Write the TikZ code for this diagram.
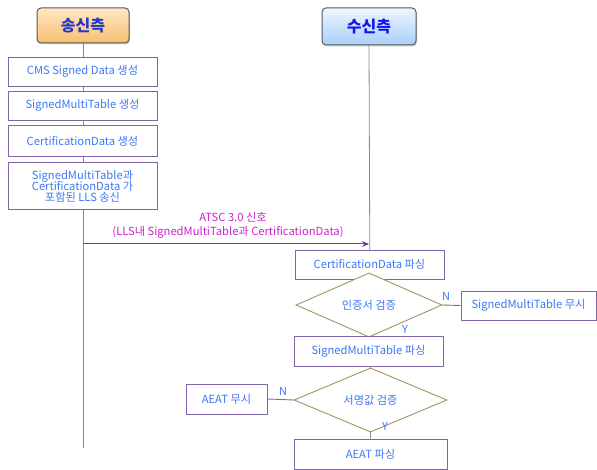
\documentclass[tikz,border=0pt]{standalone}
\usepackage{fontspec}
\setmainfont{Noto Sans CJK KR}
\usetikzlibrary{shapes.geometric,arrows.meta,backgrounds,shadows}
\definecolor{txtblue}{HTML}{3C78F5}
\definecolor{boxline}{HTML}{8064A8}
\definecolor{diamline}{HTML}{A89060}
\definecolor{lifegrey}{HTML}{8A8A8A}
\definecolor{sigline}{HTML}{6A3D9A}
\definecolor{siglabel}{HTML}{D020D0}
\definecolor{hdrblueA}{HTML}{2438C0}
\definecolor{hdrblueB}{HTML}{1414F0}
\definecolor{orTop}{HTML}{FFE8C4}
\definecolor{orBot}{HTML}{F7BE70}
\definecolor{blTop}{HTML}{EEF6FF}
\definecolor{blBot}{HTML}{A9CFF7}
\tikzset{
  x=1pt,y=-1pt,
  every node/.style={font=\fontsize{11.2}{13}\selectfont, text=txtblue, inner sep=1pt, align=center},
  procbox/.style={draw=boxline, line width=0.9pt, fill=white, minimum width=149pt, minimum height=29pt},
  decision/.style={diamond, draw=diamline, line width=0.9pt, fill=white, inner sep=0pt},
  header/.style={draw=black!65, line width=1pt, rounded corners=4pt, minimum width=92pt, minimum height=35pt,
    font=\fontsize{16}{19}\selectfont\bfseries, drop shadow={shadow xshift=1pt, shadow yshift=-1.5pt, opacity=0.35}},
  lifeline/.style={draw=lifegrey, line width=0.8pt},
  branch/.style={draw=boxline, line width=0.9pt},
  yn/.style={font=\fontsize{11}{13}\selectfont, text=txtblue}
}
\begin{document}
\begin{tikzpicture}
\useasboundingbox (0,0) rectangle (597,470);
% headers
\node[header, top color=orTop, bottom color=orBot, text=hdrblueA] (snd) at (83,25.5) {송신측};
\node[header, top color=blTop, bottom color=blBot, text=hdrblueB, minimum width=94pt, minimum height=37pt] (rcv) at (369,26.5) {수신측};
% sender boxes
\node[procbox] (s1) at (82.5,71.5) {CMS Signed Data 생성};
\node[procbox] (s2) at (82.5,105.5) {SignedMultiTable 생성};
\node[procbox, minimum height=31pt] (s3) at (82.5,141) {CertificationData 생성};
\node[procbox, minimum height=47pt] (s4) at (82.5,186) {SignedMultiTable과\\[-2pt]CertificationData 가\\[-2pt]포함된 LLS 송신};
% receiver
\node[procbox] (r1) at (369.5,264.5) {CertificationData 파싱};
\node[decision, minimum width=146pt, minimum height=42pt] (d1) at (369,305) {인증서 검증};
\node[procbox, minimum width=135pt] (ig1) at (528.5,305.5) {SignedMultiTable 무시};
\node[procbox, minimum height=30pt] (r2) at (368.5,351) {SignedMultiTable 파싱};
\node[decision, minimum width=153pt, minimum height=40pt] (d2) at (370.5,400) {서명값 검증};
\node[procbox, minimum width=81pt, minimum height=30pt] (ig2) at (226.5,399) {AEAT 무시};
\node[procbox, minimum width=153pt, minimum height=30pt] (r3) at (370.5,454) {AEAT 파싱};
% labels
\node[yn] (n1) at (446,296) {N};
\node[yn] (y1) at (405,329) {Y};
\node[yn] (n2) at (283,391) {N};
\node[yn] (y2) at (385,426) {Y};
% signal
\coordinate (sigL) at (83,244);
\coordinate (sigR) at (369,244);
\coordinate (lifeEnd) at (83,448);
\node[text=siglabel] (sig1) at (233,217) {ATSC 3.0 신호};
\node[text=siglabel] (sig2) at (228,232) {(LLS내 SignedMultiTable과 CertificationData)};
\begin{scope}[on background layer]
\draw[lifeline] (snd.south) -- (lifeEnd);
\draw[lifeline] (rcv.south) -- (r3.north);
\end{scope}
\draw[sigline, line width=1pt, -{Stealth[length=7pt,width=6pt]}] (sigL) -- (sigR);
\draw[branch] (d1.east) -- (ig1.west);
\draw[branch] (d2.west) -- (ig2.east);
\end{tikzpicture}
\end{document}
